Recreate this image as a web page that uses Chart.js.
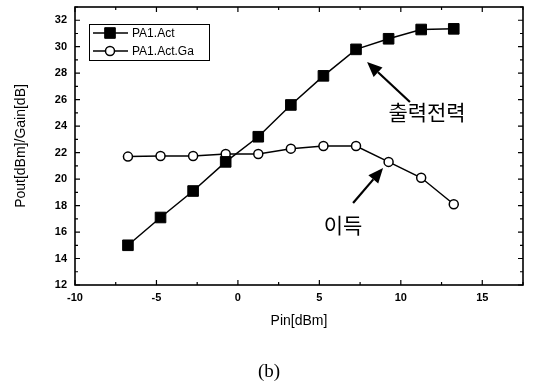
<!DOCTYPE html>
<html>
<head>
<meta charset="utf-8">
<script src="https://cdn.jsdelivr.net/npm/chart.js@4.4.0/dist/chart.umd.min.js"></script>
<style>
    html, body { margin: 0; padding: 0; background: #fff; }
    #wrap { position: relative; width: 534px; height: 385px; }
    #caption {
        position: absolute; left: 0; top: 360px; width: 538px;
        text-align: center; font: 19px "Liberation Serif", serif; color: #000;
    }
</style>
</head>
<body>
<div id="wrap">
    <canvas id="chart" width="534" height="385"></canvas>
    <div id="caption">(b)</div>
</div>
<script>
// ===================================
// DATA
// ===================================
const pinValues = [-6.75, -4.75, -2.75, -0.75, 1.25, 3.25, 5.25, 7.25, 9.25, 11.25, 13.25];
const poutValues = [15.0, 17.1, 19.1, 21.3, 23.2, 25.6, 27.8, 29.8, 30.6, 31.3, 31.35];
const gainValues = [21.7, 21.75, 21.75, 21.9, 21.9, 22.3, 22.5, 22.5, 21.3, 20.1, 18.1];
const seriesLabels = ['PA1.Act', 'PA1.Act.Ga'];

// arrows and captions inside the plot, in data units
const arrows = [
    { from: [10.56, 25.82], to: [7.93, 28.85] },
    { from: [7.07, 18.19], to: [8.91, 20.84] }
];
const notes = [
    { text: '출력전력', at: [11.61, 25.07] },
    { text: '이득', at: [6.45, 16.53] }
];

const toPoints = ys => pinValues.map((x, i) => ({ x: x, y: ys[i] }));

/**
 * Frame, inward ticks, boxed legend and the arrows
 */
const decorations = {
    id: 'decorations',
    afterDraw(chart) {
        const { ctx, chartArea: a, scales: { x, y } } = chart;
        ctx.save();
        ctx.strokeStyle = '#000';
        ctx.fillStyle = '#000';

        // frame
        ctx.lineWidth = 1.6;
        ctx.strokeRect(a.left, a.top, a.right - a.left, a.bottom - a.top);

        // ticks, pointing inward on all four sides
        ctx.lineWidth = 1.2;
        ctx.beginPath();
        for (let v = 12; v <= 33; v += 1) {
            const py = y.getPixelForValue(v);
            const len = v % 2 === 0 ? 5 : 3;
            ctx.moveTo(a.left, py); ctx.lineTo(a.left + len, py);
            ctx.moveTo(a.right, py); ctx.lineTo(a.right - len, py);
        }
        for (let v = -10; v <= 17.5; v += 2.5) {
            const px = x.getPixelForValue(v);
            const len = v % 5 === 0 ? 5 : 3;
            ctx.moveTo(px, a.bottom); ctx.lineTo(px, a.bottom - len);
            ctx.moveTo(px, a.top); ctx.lineTo(px, a.top + len);
        }
        ctx.stroke();

        // legend box
        ctx.lineWidth = 1;
        ctx.strokeRect(89.5, 24.5, 120, 36);
        ctx.font = '12px "Liberation Sans", Arial, sans-serif';
        ctx.textBaseline = 'middle';
        chart.data.datasets.forEach((ds, i) => {
            const ly = 33 + i * 18;
            ctx.lineWidth = 1.5;
            ctx.beginPath();
            ctx.moveTo(93, ly); ctx.lineTo(128, ly);
            ctx.stroke();
            ctx.fillStyle = ds.pointBackgroundColor;
            ctx.strokeStyle = '#000';
            ctx.lineWidth = ds.pointBorderWidth;
            Chart.helpers.drawPoint(ctx, {
                pointStyle: ds.pointStyle,
                radius: ds.pointRadius,
                borderWidth: ds.pointBorderWidth
            }, 110, ly);
            ctx.fillStyle = '#000';
            ctx.fillText(ds.label, 132, ly + 1);
        });

        // arrows
        arrows.forEach(arw => {
            const x0 = x.getPixelForValue(arw.from[0]), y0 = y.getPixelForValue(arw.from[1]);
            const x1 = x.getPixelForValue(arw.to[0]), y1 = y.getPixelForValue(arw.to[1]);
            const ang = Math.atan2(y1 - y0, x1 - x0);
            const head = 15, half = 6.5;
            const bx = x1 - head * Math.cos(ang), by = y1 - head * Math.sin(ang);
            ctx.lineWidth = 2.2;
            ctx.beginPath();
            ctx.moveTo(x0, y0); ctx.lineTo(bx, by);
            ctx.stroke();
            ctx.beginPath();
            ctx.moveTo(x1, y1);
            ctx.lineTo(bx + half * Math.sin(ang), by - half * Math.cos(ang));
            ctx.lineTo(bx - half * Math.sin(ang), by + half * Math.cos(ang));
            ctx.closePath();
            ctx.fill();
        });

        // captions
        ctx.font = '21px "Noto Sans CJK KR", sans-serif';
        ctx.textAlign = 'center';
        ctx.textBaseline = 'middle';
        notes.forEach(n => {
            ctx.fillText(n.text, x.getPixelForValue(n.at[0]), y.getPixelForValue(n.at[1]));
        });
        ctx.restore();
    }
};

const tickFont = { family: '"Liberation Sans", Arial, sans-serif', size: 11, weight: 'bold' };
const titleFont = { family: '"Liberation Sans", Arial, sans-serif', size: 14 };

new Chart(document.getElementById('chart'), {
    type: 'line',
    data: {
        datasets: [{
            label: seriesLabels[0],
            data: toPoints(poutValues),
            borderColor: '#000',
            borderWidth: 1.5,
            pointStyle: 'rect',
            pointRadius: 7.5,
            pointBackgroundColor: '#000',
            pointBorderColor: '#000',
            pointBorderWidth: 1,
            tension: 0
        }, {
            label: seriesLabels[1],
            data: toPoints(gainValues),
            borderColor: '#000',
            borderWidth: 1.5,
            pointStyle: 'circle',
            pointRadius: 4.5,
            pointBackgroundColor: '#fff',
            pointBorderColor: '#000',
            pointBorderWidth: 1.5,
            tension: 0
        }]
    },
    options: {
        responsive: false,
        animation: false,
        layout: { autoPadding: false, padding: { top: 7, right: 11, left: 0, bottom: 0 } },
        plugins: {
            legend: { display: false },
            tooltip: { enabled: false }
        },
        scales: {
            x: {
                type: 'linear',
                min: -10,
                max: 17.5,
                afterFit: s => { s.height = 100; },
                grid: { display: false, drawTicks: false },
                border: { display: false },
                ticks: {
                    stepSize: 5,
                    includeBounds: false,
                    padding: 6,
                    color: '#000',
                    font: tickFont
                },
                title: {
                    display: true,
                    text: 'Pin[dBm]',
                    color: '#000',
                    font: titleFont,
                    padding: { top: 0, bottom: 55 }
                }
            },
            y: {
                min: 12,
                max: 33,
                afterFit: s => {
                    s.width = 75;
                    s.paddingTop = 0;
                    s.paddingBottom = 0;
                },
                grid: { display: false, drawTicks: false },
                border: { display: false },
                ticks: {
                    stepSize: 2,
                    includeBounds: false,
                    padding: 8,
                    color: '#000',
                    font: tickFont
                },
                title: {
                    display: true,
                    text: 'Pout[dBm]/Gain[dB]',
                    color: '#000',
                    font: titleFont,
                    padding: { top: 13, bottom: 0 }
                }
            }
        }
    },
    plugins: [decorations]
});
</script>
</body>
</html>
